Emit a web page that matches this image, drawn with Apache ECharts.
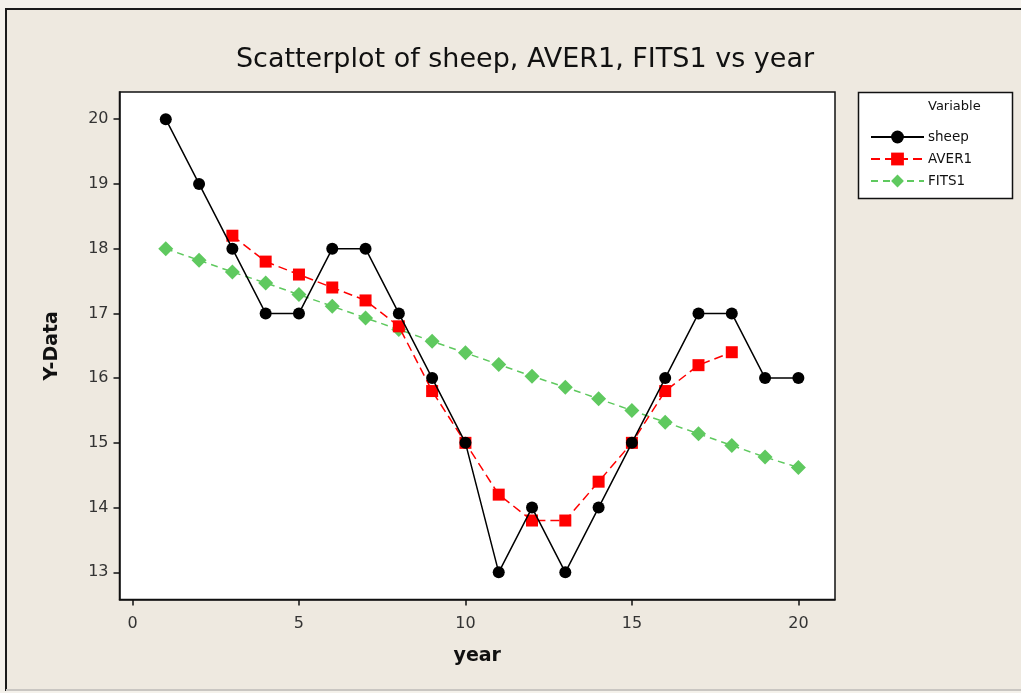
<!DOCTYPE html>
<html>
<head>
<meta charset="utf-8">
<script src="https://cdn.jsdelivr.net/npm/echarts@6/dist/echarts.min.js"></script>
<style>
html,body{margin:0;padding:0;background:#F4F1EB;}
#c{width:1021px;height:693px;}
</style>
</head>
<body>
<div id="c"></div>
<script>
const years = [1,2,3,4,5,6,7,8,9,10,11,12,13,14,15,16,17,18,19,20];
const sheep = [20,19,18,17,17,18,18,17,16,15,13,14,13,14,15,16,17,17,16,16];
const averYears = [3,4,5,6,7,8,9,10,11,12,13,14,15,16,17,18];
const aver1 = [18.2,17.8,17.6,17.4,17.2,16.8,15.8,15.0,14.2,13.8,13.8,14.4,15.0,15.8,16.2,16.4];
const fits1 = [18.00,17.82,17.64,17.47,17.29,17.11,16.93,16.75,16.57,16.39,16.21,16.03,15.86,15.68,15.50,15.32,15.14,14.96,14.78,14.62];
const xTicks = [0,5,10,15,20];
const yTicks = [13,14,15,16,17,18,19,20];

const FONT = 'DejaVu Sans';
const chart = echarts.init(document.getElementById('c'), null, {renderer:'canvas'});
const pair = (xs, ys) => xs.map((x,i)=>[x, ys[i]]);

chart.setOption({
  backgroundColor: '#F4F1EB',
  animation: false,
  title: {
    text: 'Scatterplot of sheep, AVER1, FITS1 vs year',
    left: 520, top: 41, textAlign: 'center',
    textStyle: {fontFamily: FONT, fontSize: 27, fontWeight: 'normal', color: '#111'}
  },
  graphic: [
    {type:'rect', z:-10, shape:{x:6, y:9, width:1030, height:681},
     style:{fill:'#EEE9E0', stroke:'#1a1a1a', lineWidth:2}},
    {type:'line', z:-9, shape:{x1:6, y1:690, x2:1030, y2:690},
     style:{stroke:'#C9C6C2', lineWidth:2}},
    {type:'rect', z:-5, shape:{x:858.5, y:92.5, width:154, height:106},
     style:{fill:'#FFFFFF', stroke:'#111', lineWidth:1.5}},
    {type:'text', left:928, top:100, z:5,
     style:{text:'Variable', fontFamily:FONT, fontSize:13, fill:'#111'}}
  ],
  legend: {
    orient: 'vertical',
    left: 865, top: 125,
    itemWidth: 53, itemHeight: 16, itemGap: 8,
    textStyle: {fontFamily: FONT, fontSize: 13.5, color: '#111', padding:[0,0,0,-1]},
    data: ['sheep','AVER1','FITS1']
  },
  grid: {
    left: 119.5, top: 92, right: 186, bottom: 93.5,
    show: true, backgroundColor: '#FFFFFF', borderColor: '#111', borderWidth: 1.5,
    containLabel: false
  },
  xAxis: {
    type: 'value', min: -0.39, max: 21.1,
    name: 'year', nameLocation: 'middle', nameGap: 47,
    nameTextStyle: {fontFamily: FONT, fontSize: 19, fontWeight: 'bold', color: '#111'},
    axisLine: {show: true, onZero: false, lineStyle: {color:'#111', width:1.5}},
    axisTick: {show: true, customValues: xTicks, length: 6, lineStyle:{color:'#111', width:1.5}},
    axisLabel: {customValues: xTicks, margin: 16, fontFamily: FONT, fontSize: 16, color: '#333'},
    splitLine: {show: false}
  },
  yAxis: {
    type: 'value', min: 12.58, max: 20.42,
    name: 'Y-Data', nameLocation: 'middle', nameGap: 58, nameRotate: 90,
    nameTextStyle: {fontFamily: FONT, fontSize: 19, fontWeight: 'bold', color: '#111'},
    axisLine: {show: true, onZero: false, lineStyle: {color:'#111', width:1.5}},
    axisTick: {show: true, customValues: yTicks, length: 6, lineStyle:{color:'#111', width:1.5}},
    axisLabel: {customValues: yTicks, margin: 11, fontFamily: FONT, fontSize: 16, color: '#333'},
    splitLine: {show: false}
  },
  series: [
    {name:'sheep', type:'line', data: pair(years, sheep),
     symbol:'circle', symbolSize: 12, z: 4,
     itemStyle:{color:'#000'}, lineStyle:{color:'#000', width:1.5}},
    {name:'AVER1', type:'line', data: pair(averYears, aver1),
     symbol:'rect', symbolSize: 12, z: 3,
     itemStyle:{color:'#FF0000'}, lineStyle:{color:'#FF0000', width:1.5, type:[9,5]}},
    {name:'FITS1', type:'line', data: pair(years, fits1),
     symbol:'diamond', symbolSize: 15, z: 2,
     itemStyle:{color:'#5FC95F'}, lineStyle:{color:'#5FC95F', width:1.5, type:[7,5]}}
  ]
});
</script>
</body>
</html>
